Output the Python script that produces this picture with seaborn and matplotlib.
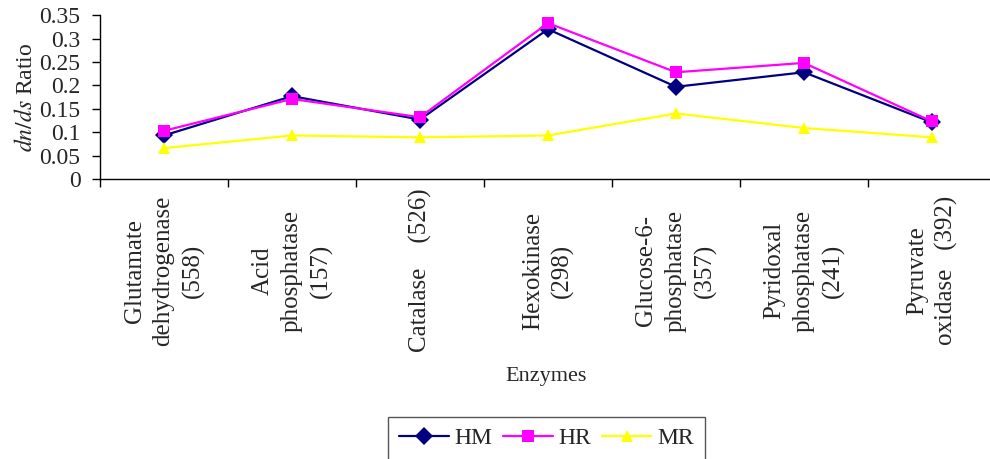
import pandas as pd
import matplotlib
matplotlib.use('Agg')
import matplotlib.pyplot as plt
import seaborn as sns

# data
enzymes = ['Glutamate\ndehydrogenase\n(558)', 'Acid\nphosphatase\n(157)', 'Catalase    (526)',
           'Hexokinase\n(298)', 'Glucose-6-\nphosphatase\n(357)', 'Pyridoxal\nphosphatase\n(241)',
           'Pyruvate\noxidase   (392)']
hm = [0.093, 0.177, 0.127, 0.320, 0.197, 0.228, 0.121]
hr = [0.103, 0.171, 0.132, 0.333, 0.228, 0.248, 0.123]
mr = [0.066, 0.093, 0.089, 0.093, 0.140, 0.109, 0.089]
series = ['HM', 'HR', 'MR']
colors = ['#000080', '#FF00FF', '#FFFF00']
marks = ['D', 's', '^']

sns.set_style('white')
plt.rcParams['font.family'] = ['Liberation Serif', 'DejaVu Serif']
plt.rcParams['mathtext.fontset'] = 'stix'

df = pd.DataFrame({'Enzyme': enzymes * 3,
                   'Ratio': hm + hr + mr,
                   'Pair': [s for s in series for _ in enzymes]})
df['pos'] = list(range(len(enzymes))) * 3

fig = plt.figure(figsize=(9.9, 4.59), dpi=100)
ax = fig.add_axes([0.101, 0.61, 0.905, 0.357])

sns.lineplot(data=df, x='pos', y='Ratio', hue='Pair', style='Pair',
             palette=dict(zip(series, colors)), markers=dict(zip(series, marks)), dashes=False,
             markersize=9, linewidth=1.6, markeredgewidth=0, ax=ax, legend=False)

ax.set_xlim(-0.5, len(enzymes) - 0.5)
ax.set_ylim(0, 0.35)
ax.set_yticks([0, 0.05, 0.1, 0.15, 0.2, 0.25, 0.3, 0.35])
ax.set_yticklabels(['0', '0.05', '0.1', '0.15', '0.2', '0.25', '0.3', '0.35'])
ax.set_xticks(range(len(enzymes)))
ax.set_xticklabels(enzymes, rotation=90, ha='center', va='center', multialignment='center',
                   linespacing=1.4)
ax.set_xticks([i - 0.5 for i in range(len(enzymes) + 1)], minor=True)
ax.tick_params(axis='x', which='major', length=0, pad=66, labelsize=18)
ax.tick_params(axis='x', which='minor', length=6, width=1, direction='out', color='black')
ax.tick_params(axis='y', length=6, width=1, direction='out', color='black', labelsize=17, pad=8)
ax.xaxis.set_ticks_position('bottom')
ax.yaxis.set_ticks_position('left')
for s in ['top', 'right']:
    ax.spines[s].set_visible(False)
for s in ['left', 'bottom']:
    ax.spines[s].set_color('black')
    ax.spines[s].set_linewidth(1)

ax.set_ylabel(r'$dn/ds$ Ratio', fontsize=17)
ax.yaxis.set_label_coords(-0.07, 0.5)
ax.set_xlabel('')
fig.text(0.552, 1 - 377 / 459, 'Enzymes', ha='center', va='center', fontsize=16)

handles = [plt.Line2D([], [], color=c, marker=m, markersize=9, linewidth=1.6, markeredgewidth=0)
           for c, m in zip(colors, marks)]
leg = fig.legend(handles, series, loc='upper center', bbox_to_anchor=(0.552, 1 - 417 / 459),
                 ncol=3, fontsize=17, frameon=True, fancybox=False, framealpha=1,
                 handlelength=2.1, columnspacing=0.45, handletextpad=0.25, borderpad=0.45,
                 borderaxespad=0)
leg.get_frame().set_edgecolor('#555555')
leg.get_frame().set_linewidth(1)

fig.savefig('out.png', dpi=100)
